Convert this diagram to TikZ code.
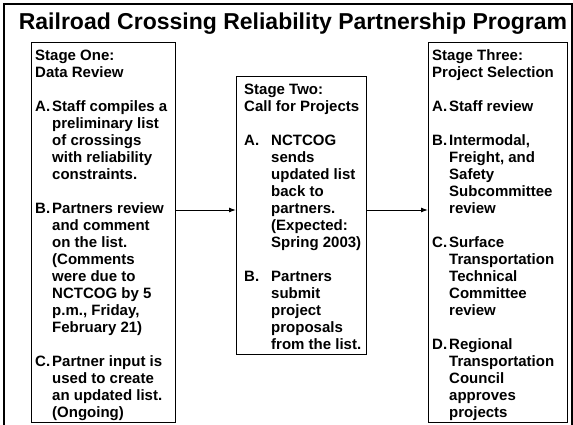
\documentclass[tikz,border=0pt]{standalone}
\usepackage{fontspec}
\setmainfont{Liberation Sans}
\usetikzlibrary{positioning,arrows.meta}

\newcommand{\stagefont}{\fontsize{15}{17}\selectfont\bfseries}
\newcommand{\head}[1]{\multicolumn{2}{@{}l@{}}{#1}}

\begin{document}
\begin{tikzpicture}[x=1pt, y=-1pt, >={Latex[length=7pt,width=5pt]},
  stagebox/.style={draw, line width=1pt, inner sep=0pt, anchor=north west},
  stagetext/.style={anchor=north west, inner sep=0pt, align=left, font=\stagefont}]

\useasboundingbox (0,0) rectangle (573,424);
\draw [line width=1.6] (4,4) rectangle (572,440);

%title
\node [font=\fontsize{23}{26}\selectfont\bfseries] (title) at (293,24)
  {Railroad Crossing Reliability Partnership Program};

%boxes
\node [stagebox, minimum width=144pt, minimum height=380pt] (one) at (31,42) {};
\node [stagebox, minimum width=130pt, minimum height=278pt] (two) at (236,76) {};
\node [stagebox, minimum width=139pt, minimum height=380pt] (three) at (428,42) {};

%texts
\node [stagetext] (onetext) at ([xshift=4pt,yshift=-6pt]one.north west) {%
  \begin{tabular}{@{}p{17pt}@{}l@{}}
  \head{Stage One:}\\
  \head{Data Review}\\[17pt]
  A. & Staff compiles a\\
     & preliminary list\\
     & of crossings\\
     & with reliability\\
     & constraints.\\[17pt]
  B. & Partners review\\
     & and comment\\
     & on the list.\\
     & (Comments\\
     & were due to\\
     & NCTCOG by 5\\
     & p.m., Friday,\\
     & February 21)\\[17pt]
  C. & Partner input is\\
     & used to create\\
     & an updated list.\\
     & (Ongoing)
  \end{tabular}};
\node [stagetext] (twotext) at ([xshift=8pt,yshift=-6pt]two.north west) {%
  \begin{tabular}{@{}p{27pt}@{}l@{}}
  \head{Stage Two:}\\
  \head{Call for Projects}\\[17pt]
  A. & NCTCOG\\
     & sends\\
     & updated list\\
     & back to\\
     & partners.\\
     & (Expected:\\
     & Spring 2003)\\[17pt]
  B. & Partners\\
     & submit\\
     & project\\
     & proposals\\
     & from the list.
  \end{tabular}};
\node [stagetext] (threetext) at ([xshift=4pt,yshift=-6pt]three.north west) {%
  \begin{tabular}{@{}p{17pt}@{}l@{}}
  \head{Stage Three:}\\
  \head{Project Selection}\\[17pt]
  A. & Staff review\\[17pt]
  B. & Intermodal,\\
     & Freight, and\\
     & Safety\\
     & Subcommittee\\
     & review\\[17pt]
  C. & Surface\\
     & Transportation\\
     & Technical\\
     & Committee\\
     & review\\[17pt]
  D. & Regional\\
     & Transportation\\
     & Council\\
     & approves\\
     & projects
  \end{tabular}};

%arrows
\coordinate (link) at (0,210);
\draw [->, line width=1] (one.east |- link) -- (two.west |- link);
\draw [->, line width=1] (two.east |- link) -- (three.west |- link);

\end{tikzpicture}
\end{document}
